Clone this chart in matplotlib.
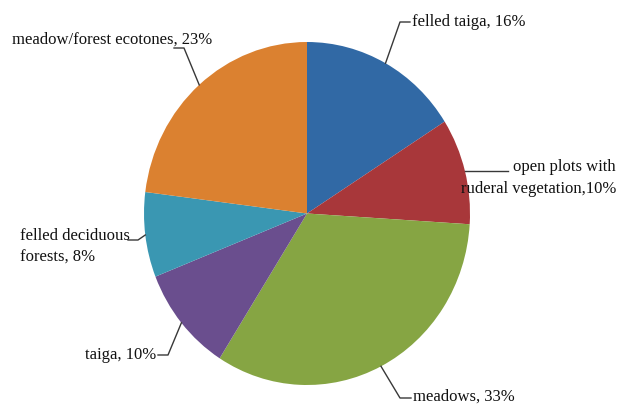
import numpy as np
import matplotlib.pyplot as plt

plt.rcParams['font.family'] = ['Liberation Serif', 'DejaVu Serif']

labels = ['felled taiga, 16%', 'open plots with\nruderal vegetation,10%', 'meadows, 33%',
          'taiga, 10%', 'felled deciduous\nforests, 8%', 'meadow/forest ecotones, 23%']
shares = [16, 10, 33, 10, 8, 23]
colors = ['#3169a5', '#a8373a', '#86a543', '#6a4e8e', '#3a97b2', '#db8130']

# pie centre / radii in pixels (the original is slightly stretched vertically)
CX, CY, RX, RY = 307, 213.5, 163, 171.5
W, H = 622, 405


def px(x, y):
    return (x - CX) / RX, (CY - y) / RY


fig = plt.figure(figsize=(W / 100, H / 100), dpi=100)
ax = fig.add_axes([0, 0, 1, 1])
wedges, _ = ax.pie(shares, colors=colors, startangle=90, counterclock=False,
                   radius=1, wedgeprops=dict(linewidth=0))
ax.set_aspect('auto')
ax.set_xlim(px(0, 0)[0], px(W, 0)[0])
ax.set_ylim(px(0, H)[1], px(0, 0)[1])
ax.axis('off')

# leader layout: (elbow px, end px, text px, ha); elbow None = straight line
layout = [
    ((400, 22), (410, 22), (412, 22), 'left'),
    (None, (508, 170), (616, 178), 'right'),
    ((400, 398), (411, 398), (413, 397), 'left'),
    ((168, 355), (158, 355), (156, 355), 'right'),
    ((138, 240), (128, 240), (20, 247), 'left'),
    ((184, 48), (174, 48), (12, 40), 'left'),
]

for w, lab, (elb, end, tpos, ha) in zip(wedges, labels, layout):
    mid = np.deg2rad((w.theta1 + w.theta2) / 2)
    a = (np.cos(mid), np.sin(mid))
    f = px(*end)
    if elb is None:
        xs, ys = [a[0], f[0]], [a[1], a[1]]
    else:
        e = px(*elb)
        xs, ys = [a[0], e[0], f[0]], [a[1], e[1], f[1]]
    ax.plot(xs, ys, color='#383838', lw=1)
    t = px(*tpos)
    ax.text(t[0], t[1], lab, ha=ha, va='center', fontsize=12, color='#111111',
            multialignment=ha, linespacing=1.5)

fig.savefig('out.png', dpi=100)
